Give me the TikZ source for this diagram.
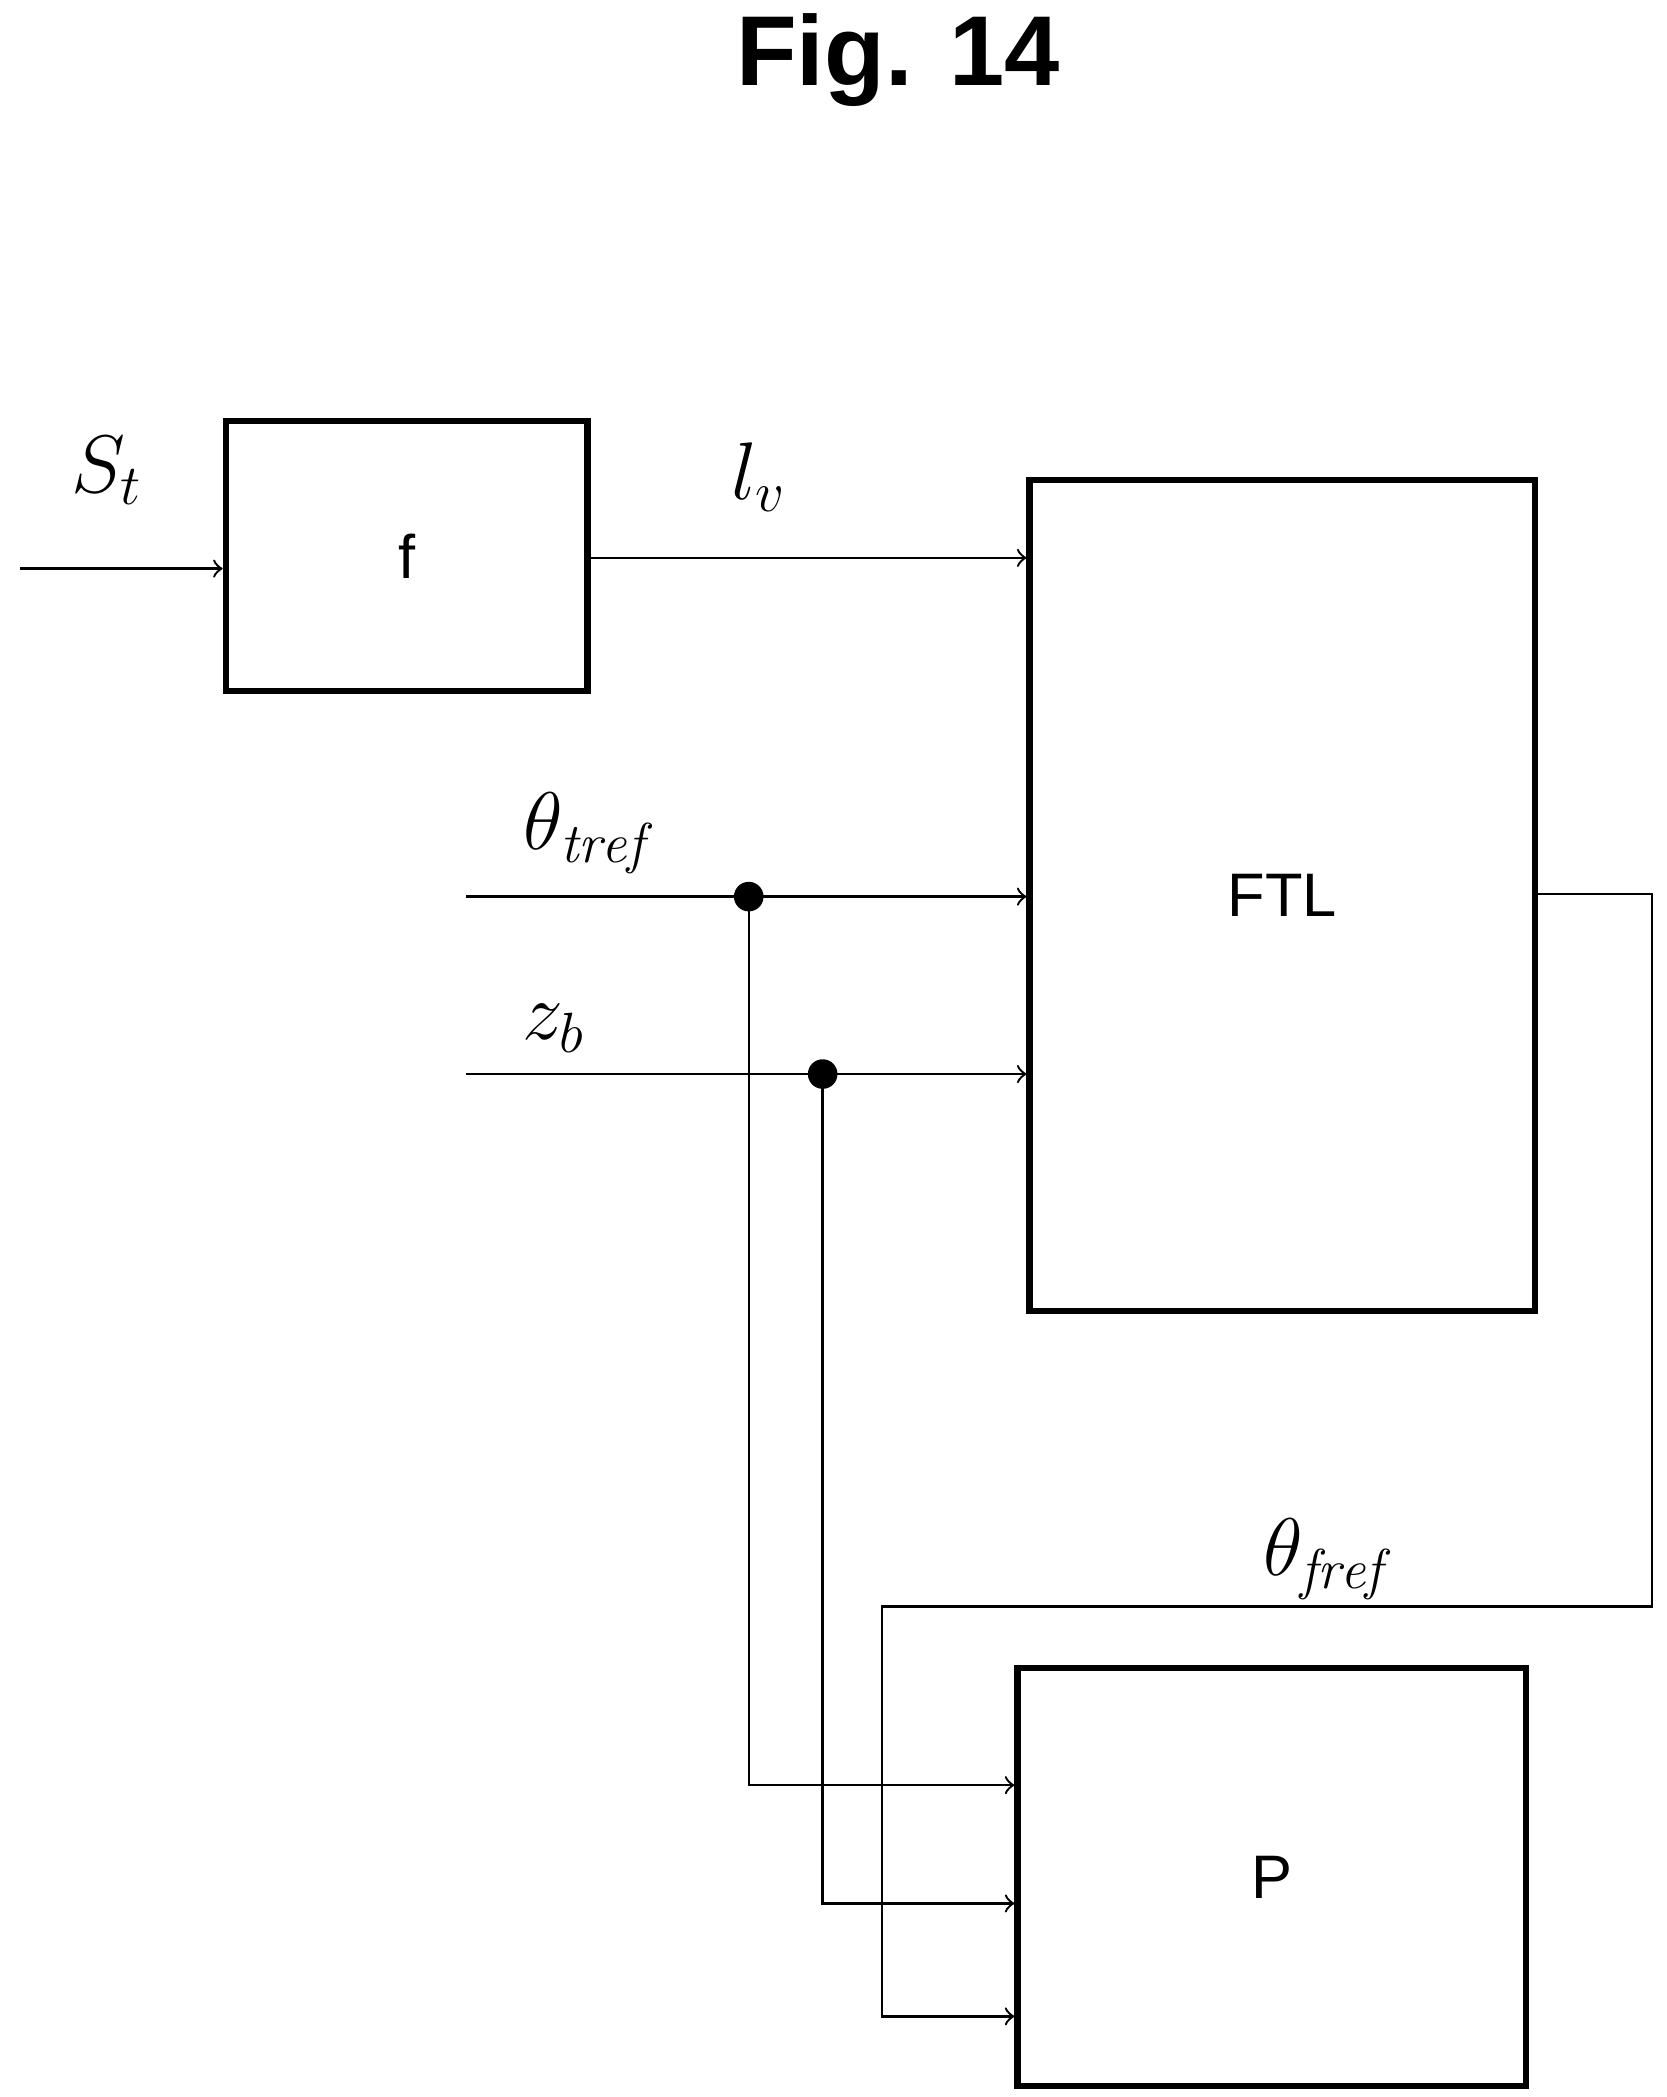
\documentclass[tikz,border=0pt]{standalone}
\usepackage{fontspec}
\newfontfamily\labelfont{Liberation Sans}
\usetikzlibrary{positioning}
\tikzset{
    blk/.style={draw, line width=1.3pt, font=\labelfont\fontsize{13}{15}\selectfont, inner sep=0pt},
    sig/.style={line width=0.5pt, -to},
    wire/.style={line width=0.5pt},
    dot/.style={circle, fill=black, inner sep=0pt, minimum size=0.22cm},
    lbl/.style={font=\fontsize{17}{19}\selectfont}
}
\begin{document}
\begin{tikzpicture}[x=0.01cm, y=-0.01cm]
    \useasboundingbox (0,0) rectangle (1240,1560);

    % titel
    \node[font=\labelfont\bfseries\fontsize{21}{24}\selectfont] (title) at (668,45) {Fig. 14};

    % bloecke
    \node[blk, minimum width=2.69cm, minimum height=2.01cm] (f) at (302.5,413.5) {f};
    \node[blk, minimum width=3.76cm, minimum height=6.18cm] (ftl) at (954,666) {FTL};
    \node[blk, minimum width=3.78cm, minimum height=3.11cm] (p) at (946,1396.5) {P};

    % eingaenge
    \coordinate (sin) at (15,423);
    \coordinate (tin) at (347,667);
    \coordinate (zin) at (347,799);
    \node[dot] (td) at (557,667) {};
    \node[dot] (zd) at (612,799) {};

    \draw[sig] (sin) -- (sin -| f.west);
    \draw[sig] (f.east |- 0,415) -- (ftl.west |- 0,415);
    \draw[sig] (tin) -- (ftl.west |- tin);
    \draw[sig] (zin) -- (ftl.west |- zin);

    % abzweigungen zu P
    \draw[sig] (td.center) -- (557,1328) -- (p.west |- 0,1328);
    \draw[sig] (zd.center) -- (612,1416) -- (p.west |- 0,1416);

    % rueckfuehrung
    \draw[sig] (ftl.east |- 0,665) -- (1229,665) -- (1229,1195) -- (656,1195) -- (656,1500) -- (p.west |- 0,1500);

    % beschriftungen
    \node[lbl] (lst) at (80,350) {$S_t$};
    \node[lbl] (llv) at (565,355) {$l_v$};
    \node[lbl] (ltr) at (435,620) {$\theta_{\mathit{tref}}$};
    \node[lbl] (lzb) at (412,765) {$z_b$};
    \node[lbl] (lfr) at (985,1160) {$\theta_{\mathit{fref}}$};
\end{tikzpicture}
\end{document}
